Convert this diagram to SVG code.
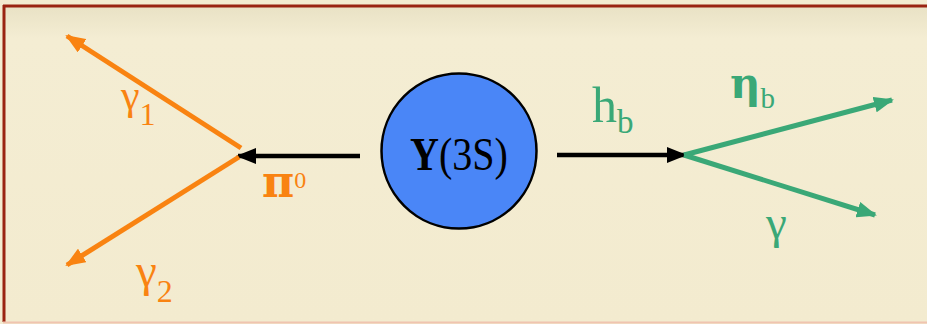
<svg xmlns="http://www.w3.org/2000/svg" width="927" height="324" viewBox="0 0 927 324">
<style>
.t{font-family:"Liberation Serif","Times New Roman",serif}
.g{font-family:"DejaVu Serif",serif}
.or{fill:#f98311}
.gr{fill:#3aa877}
.ol{stroke:#f98311;stroke-width:5;fill:none}
.gl{stroke:#3aa877;stroke-width:5;fill:none}
.bl{stroke:#000;stroke-width:4.5;fill:none}
</style>
<defs>
<linearGradient id="bg" x1="0" y1="0" x2="0" y2="1">
<stop offset="0" stop-color="#e9e2c5"/>
<stop offset="0.1" stop-color="#f4edd3"/>
<stop offset="1" stop-color="#f3ebcf"/>
</linearGradient>
<marker id="ao" viewBox="0 0 20 16" refX="18" refY="8" markerWidth="20" markerHeight="16" markerUnits="userSpaceOnUse" orient="auto"><path d="M0,0L20,8L0,16z" fill="#f98311"/></marker>
<marker id="ag" viewBox="0 0 20 16" refX="18" refY="8" markerWidth="20" markerHeight="16" markerUnits="userSpaceOnUse" orient="auto"><path d="M0,0L20,8L0,16z" fill="#3aa877"/></marker>
<marker id="ab" viewBox="0 0 20 16" refX="18" refY="8" markerWidth="20" markerHeight="16" markerUnits="userSpaceOnUse" orient="auto"><path d="M0,0L20,8L0,16z" fill="#000"/></marker>
</defs>
<rect width="927" height="324" fill="#f3ecd1"/>
<rect x="5" y="7" width="922" height="315" fill="url(#bg)"/>
<line x1="3" y1="6" x2="927" y2="6" stroke="#9a2412" stroke-width="3"/>
<line x1="4" y1="5" x2="4" y2="322" stroke="#9a2412" stroke-width="3"/>
<line x1="3" y1="322.5" x2="927" y2="322.5" stroke="#f0c4b0" stroke-width="2"/>
<g id="connectors">
<line class="bl" x1="360" y1="156" x2="238" y2="156" marker-end="url(#ab)"/>
<line class="bl" x1="557" y1="155" x2="685" y2="155" marker-end="url(#ab)"/>
<line class="ol" x1="241" y1="148" x2="67" y2="36" marker-end="url(#ao)"/>
<line class="ol" x1="239" y1="157" x2="67" y2="265" marker-end="url(#ao)"/>
<line class="gl" x1="684" y1="155" x2="892" y2="100" marker-end="url(#ag)"/>
<line class="gl" x1="684" y1="155" x2="875" y2="215" marker-end="url(#ag)"/>
</g>
<g id="upsilon">
<circle cx="459" cy="151" r="77.5" fill="#4a86f7" stroke="#000" stroke-width="2.5"/>
<text class="t" transform="translate(410,170) scale(0.87,1)" x="0" y="0" font-size="46"><tspan font-weight="bold">Y</tspan>(3S)</text>
</g>
<g id="gamma1"><text class="t or" x="121" y="109"><tspan font-size="42">γ</tspan><tspan font-size="32" dy="16">1</tspan></text></g>
<g id="gamma2"><text class="t or" x="136" y="286"><tspan font-size="47">γ</tspan><tspan font-size="32" dy="16">2</tspan></text></g>
<g id="pi0"><text class="t or" x="262" y="197"><tspan class="g" font-size="44" font-weight="bold">π</tspan><tspan font-size="24" dy="-9">0</tspan></text></g>
<g id="hb"><text class="t gr" x="592" y="122" font-size="50">h<tspan font-size="33" dy="11">b</tspan></text></g>
<g id="etab"><text class="t gr" x="730" y="98"><tspan class="g" font-size="42" font-weight="bold">η</tspan><tspan font-size="29" dy="10">b</tspan></text></g>
<g id="gamma"><text class="t gr" x="766" y="238" font-size="47">γ</text></g>
</svg>
